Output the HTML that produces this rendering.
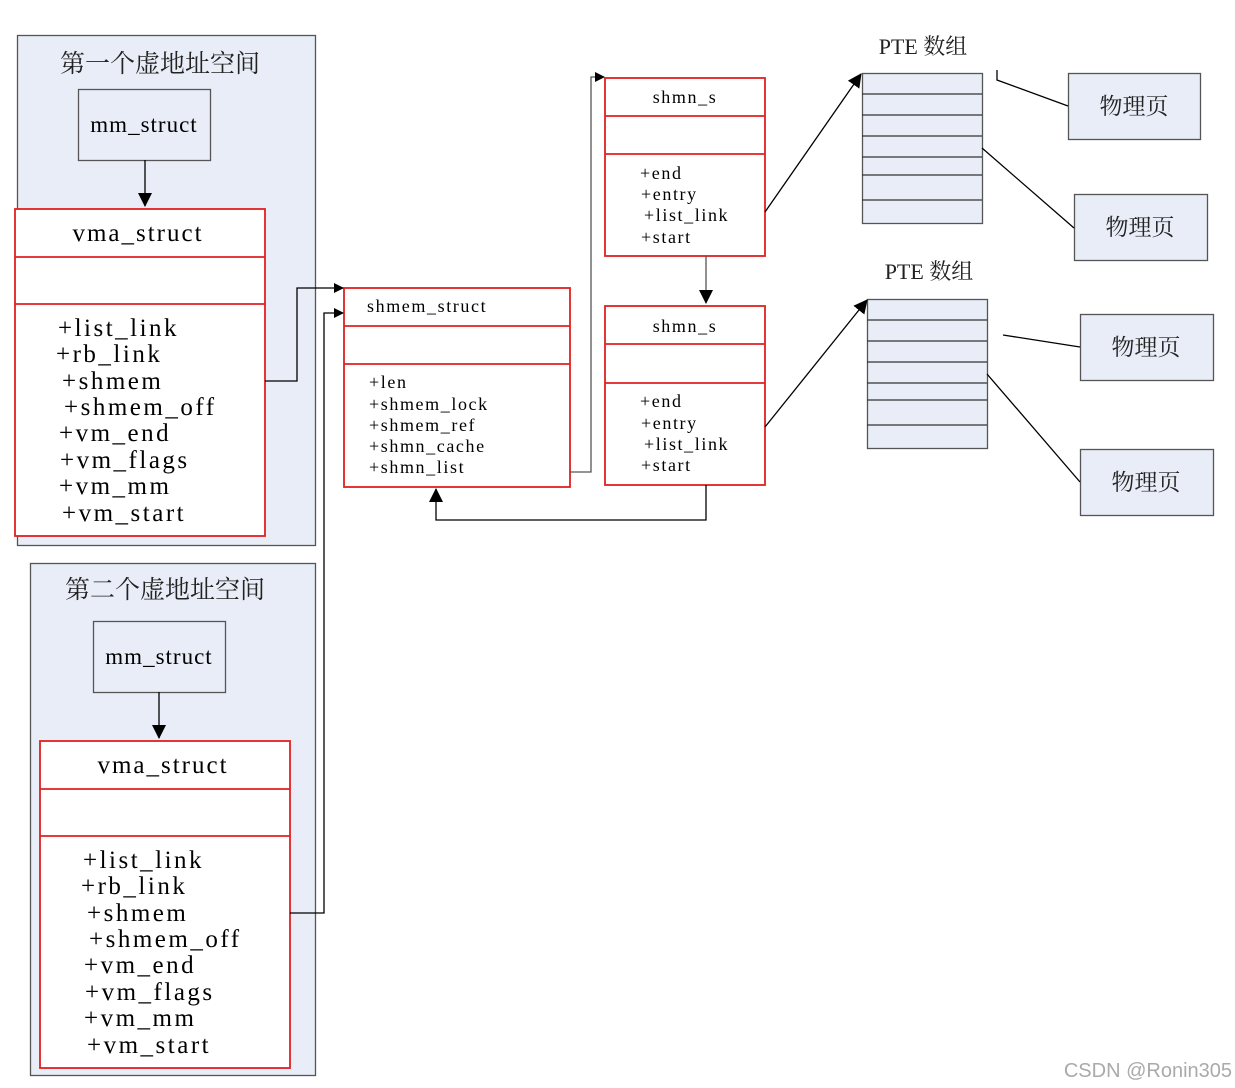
<!DOCTYPE html>
<html><head><meta charset="utf-8"><style>
html,body{margin:0;padding:0;background:#fff;width:1235px;height:1088px;overflow:hidden}
text{font-family:"Liberation Serif","Noto Serif CJK SC",serif;fill:#000}
.cj{font-family:"Liberation Serif","Noto Serif CJK SC","Noto Sans CJK SC",serif;fill:#222}
</style></head><body>
<svg width="1235" height="1088" viewBox="0 0 1235 1088" xmlns="http://www.w3.org/2000/svg">
<defs><marker id="a" markerWidth="10" markerHeight="10" refX="9" refY="5" orient="auto" markerUnits="userSpaceOnUse"><path d="M0,0 L10,5 L0,10z" fill="#000"/></marker>
<marker id="b" markerWidth="14" markerHeight="14" refX="13" refY="7" orient="auto" markerUnits="userSpaceOnUse"><path d="M0,0 L14,7 L0,14z" fill="#000"/></marker></defs>
<g stroke="#555" stroke-width="1.3" fill="#e8edf7">
<rect x="17.5" y="35.5" width="298" height="510"/>
<rect x="30.5" y="563.5" width="285" height="512"/>
<rect x="78.5" y="89.5" width="132" height="71"/>
<rect x="93.5" y="621.5" width="132" height="71"/>
<rect x="862.5" y="73.5" width="120" height="150"/>
<rect x="867.5" y="299.5" width="120" height="149"/>
<rect x="1068.5" y="73.5" width="132" height="66"/>
<rect x="1074.5" y="194.5" width="133" height="66"/>
<rect x="1080.5" y="314.5" width="133" height="66"/>
<rect x="1080.5" y="449.5" width="133" height="66"/>
</g>
<g stroke="#333" stroke-width="1.2">
<path d="M862 94H982M862 115H982M862 136H982M862 157H982M862 175H982M862 200H982"/>
<path d="M867 320H987M867 341H987M867 362H987M867 383H987M867 400H987M867 425H987"/>
</g>
<g stroke="#e02020" stroke-width="1.8" fill="#fff">
<rect x="15" y="209" width="250" height="327"/>
<rect x="40" y="741" width="250" height="327"/>
<rect x="344" y="288" width="226" height="199"/>
<rect x="605" y="78" width="160" height="178"/>
<rect x="605" y="306" width="160" height="179"/>
<path d="M15 257H265M15 304H265M40 789H290M40 836H290M344 326H570M344 364H570M605 116H765M605 154H765M605 344H765M605 383H765" fill="none"/>
</g>
<g stroke="#000" stroke-width="1.3" fill="none">
<path d="M145 160V206" marker-end="url(#b)"/>
<path d="M159 692V738" marker-end="url(#b)"/>
<path d="M265 381H297V288H343" marker-end="url(#a)"/>
<path d="M290 913H324V313H343" marker-end="url(#a)"/>
<path d="M570 472H591V77H604" marker-end="url(#a)" stroke="#555"/>
<path d="M706 256V303" marker-end="url(#b)" stroke="#555"/>
<path d="M706 485V520H436V489" marker-end="url(#b)"/>
<path d="M765 212L861 74" marker-end="url(#b)"/>
<path d="M765 427L867 300" marker-end="url(#b)"/>
<path d="M997 70V80L1068 106M982 148L1074 228M1003 335L1080 347M987 374L1080 482"/>
</g>
<g class="cj" font-size="23" text-anchor="middle">
<text class="cj" x="160" y="72" font-size="25">第一个虚地址空间</text>
<text class="cj" x="165" y="598" font-size="25">第二个虚地址空间</text>
<text class="cj" x="923" y="54" font-size="22">PTE 数组</text>
<text class="cj" x="929" y="279" font-size="22">PTE 数组</text>
<text class="cj" x="1134" y="114">物理页</text>
<text class="cj" x="1140" y="235">物理页</text>
<text class="cj" x="1146" y="355">物理页</text>
<text class="cj" x="1146" y="490">物理页</text>
</g>
<g font-size="23" letter-spacing="1">
<text x="144" y="132" text-anchor="middle">mm_struct</text>
<text x="159" y="664" text-anchor="middle">mm_struct</text>
<text x="138" y="241" text-anchor="middle" font-size="25" letter-spacing="2">vma_struct</text>
<text x="163" y="773" text-anchor="middle" font-size="25" letter-spacing="2">vma_struct</text>
</g>
<g font-size="25" letter-spacing="2.5">
<text x="58" y="336">+list_link</text><text x="56" y="362">+rb_link</text><text x="62" y="389">+shmem</text><text x="64" y="415">+shmem_off</text><text x="59" y="441">+vm_end</text><text x="60" y="468">+vm_flags</text><text x="59" y="494">+vm_mm</text><text x="62" y="521">+vm_start</text>
<text x="83" y="868">+list_link</text><text x="81" y="894">+rb_link</text><text x="87" y="921">+shmem</text><text x="89" y="947">+shmem_off</text><text x="84" y="973">+vm_end</text><text x="85" y="1000">+vm_flags</text><text x="84" y="1026">+vm_mm</text><text x="87" y="1053">+vm_start</text>
</g>
<g font-size="18" letter-spacing="1.6">
<text x="367" y="312">shmem_struct</text>
<text x="369" y="388">+len</text><text x="369" y="410">+shmem_lock</text><text x="369" y="431">+shmem_ref</text><text x="369" y="452">+shmn_cache</text><text x="369" y="473">+shmn_list</text>
<text x="685" y="103" text-anchor="middle">shmn_s</text>
<text x="640" y="179">+end</text><text x="641" y="200">+entry</text><text x="644" y="221">+list_link</text><text x="641" y="243">+start</text>
<text x="685" y="332" text-anchor="middle">shmn_s</text>
<text x="640" y="407">+end</text><text x="641" y="429">+entry</text><text x="644" y="450">+list_link</text><text x="641" y="471">+start</text>
</g>
<text x="1232" y="1077" text-anchor="end" font-size="20" style="font-family:'Liberation Sans',sans-serif;fill:#aaa">CSDN @Ronin305</text>
</svg>
</body></html>
